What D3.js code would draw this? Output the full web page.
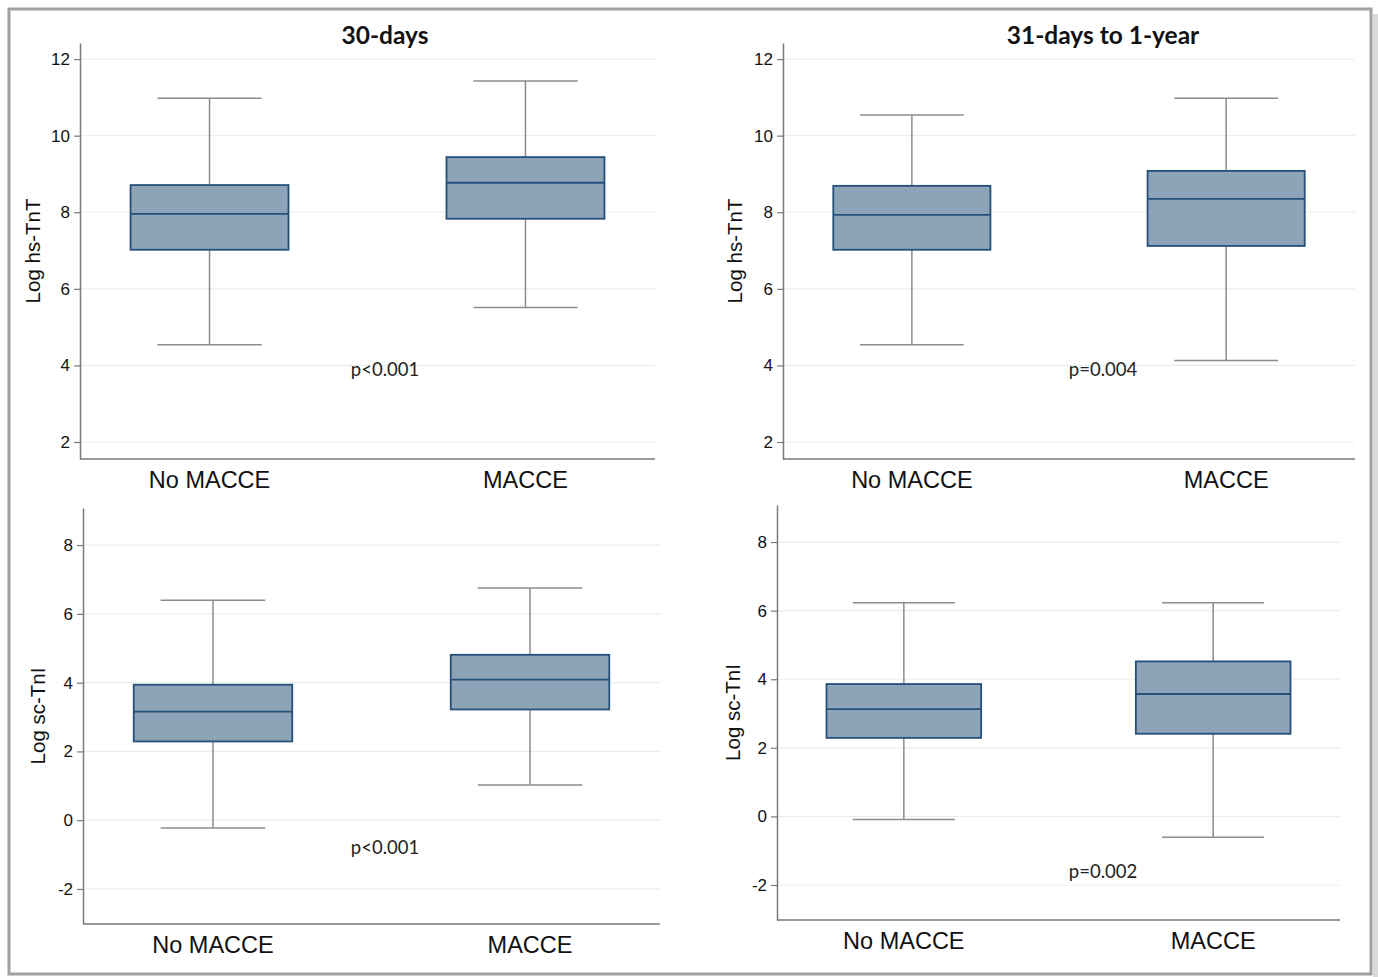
<!DOCTYPE html>
<html>
<head>
<meta charset="utf-8">
<script src="https://cdn.jsdelivr.net/npm/d3@7"></script>
<style>
  body { margin: 0; background: #fff; }
</style>
</head>
<body>
<div id="chart"></div>
<script>
// ---------------------- data ----------------------
var groups = ["No MACCE", "MACCE"];
var periods = ["30-days", "31-days to 1-year"];
var markers = ["Log hs-TnT", "Log sc-TnI"];

// [lowWhisker, q1, median, q3, highWhisker]
var tntDays30 = [[4.54, 7.02, 7.96, 8.71, 10.98], [5.51, 7.83, 8.77, 9.44, 11.43]];
var tntYear1  = [[4.54, 7.02, 7.93, 8.69, 10.54], [4.13, 7.12, 8.35, 9.08, 10.98]];
var tniDays30 = [[-0.23, 2.29, 3.16, 3.94, 6.40], [1.02, 3.22, 4.09, 4.81, 6.75]];
var tniYear1  = [[-0.09, 2.29, 3.13, 3.86, 6.23], [-0.61, 2.41, 3.57, 4.52, 6.23]];

var tntTicks = [2, 4, 6, 8, 10, 12];
var tniTicks = [-2, 0, 2, 4, 6, 8];
var pValues = ["p<0.001", "p=0.004", "p<0.001", "p=0.002"];

// ---------------------- panel layout ----------------------
var panels = [
  {data: tntDays30, ticks: tntTicks, dom: [1.556, 12.42], label: markers[0], title: periods[0], p: pValues[0],
   x0: 80, x1: 655, y0: 459, y1: 43, py: 370, lx: 33, xl: 488, cx: 385},
  {data: tntYear1, ticks: tntTicks, dom: [1.556, 12.42], label: markers[0], title: periods[1], p: pValues[1],
   x0: 783, x1: 1355, y0: 459, y1: 43, py: 370, lx: 735, xl: 488, cx: 1103},
  {data: tniDays30, ticks: tniTicks, dom: [-3.02, 9.08], label: markers[1], title: null, p: pValues[2],
   x0: 83, x1: 660, y0: 924, y1: 508, py: 848, lx: 38, xl: 953, cx: 385},
  {data: tniYear1, ticks: tniTicks, dom: [-3.02, 9.08], label: markers[1], title: null, p: pValues[3],
   x0: 777, x1: 1340, y0: 920, y1: 505, py: 872, lx: 733, xl: 949, cx: 1103}
];

var svg = d3.select("#chart")
  .append("svg")
  .attr("width", 1378)
  .attr("height", 977);

// outer frame with a little shadow on the right
svg.append("rect").attr("x", 1373).attr("y", 14).attr("width", 5).attr("height", 963).attr("fill", "#d9d9d9");
svg.append("rect")
  .attr("x", 9).attr("y", 9).attr("width", 1362).attr("height", 965)
  .attr("fill", "#fff").attr("stroke", "#a0a0a0").attr("stroke-width", 3);

var boxFill = "#8ca3b8", boxStroke = "#24507a", whisk = "#8c8c8c", axisCol = "#7a7a7a";
var sans = "Liberation Sans, Arial, sans-serif", cal = "Lato, Open Sans, sans-serif";

panels.forEach(function(pn) {
  var g = svg.append("g");
  var y = d3.scaleLinear().domain(pn.dom).range([pn.y0, pn.y1]);
  var x = d3.scalePoint().domain(groups).range([pn.x0, pn.x1]).padding(0.41);
  var step = x.step();

  // grid
  g.selectAll(".grid").data(pn.ticks).enter().append("line")
    .attr("x1", pn.x0).attr("x2", pn.x1)
    .attr("y1", function(d) { return y(d); }).attr("y2", function(d) { return y(d); })
    .attr("stroke", "#e6efef").attr("stroke-width", 1.2);

  // y axis
  var ya = g.append("g").attr("transform", "translate(" + pn.x0 + ",0)")
    .call(d3.axisLeft(y).tickValues(pn.ticks).tickSize(6).tickSizeOuter(0).tickPadding(4)
      .tickFormat(function(d) { return String(d); }));
  ya.select(".domain").attr("stroke", axisCol).attr("stroke-width", 1.5);
  ya.selectAll(".tick line").attr("stroke", axisCol).attr("stroke-width", 1.2);
  ya.selectAll(".tick text").attr("fill", "#111").style("font-family", sans).style("font-size", "17px");

  // x axis line
  g.append("line").attr("x1", pn.x0).attr("x2", pn.x1).attr("y1", pn.y0).attr("y2", pn.y0)
    .attr("stroke", axisCol).attr("stroke-width", 1.5);

  // x labels
  g.selectAll(".xl").data(groups).enter().append("text")
    .attr("x", function(d) { return x(d); }).attr("y", pn.xl)
    .attr("text-anchor", "middle")
    .style("font-family", sans).style("font-size", "23.5px").attr("fill", "#111")
    .text(function(d) { return d; });

  // boxes
  var bw = step * 0.5, cw = step * 0.33;
  var bx = g.selectAll(".box").data(pn.data).enter().append("g");
  bx.append("line")
    .attr("x1", function(d, i) { return x(groups[i]); }).attr("x2", function(d, i) { return x(groups[i]); })
    .attr("y1", function(d) { return y(d[4]); }).attr("y2", function(d) { return y(d[0]); })
    .attr("stroke", whisk).attr("stroke-width", 1.5);
  [0, 4].forEach(function(k) {
    bx.append("line")
      .attr("x1", function(d, i) { return x(groups[i]) - cw / 2; }).attr("x2", function(d, i) { return x(groups[i]) + cw / 2; })
      .attr("y1", function(d) { return y(d[k]); }).attr("y2", function(d) { return y(d[k]); })
      .attr("stroke", whisk).attr("stroke-width", 1.5);
  });
  bx.append("rect")
    .attr("x", function(d, i) { return x(groups[i]) - bw / 2; }).attr("width", bw)
    .attr("y", function(d) { return y(d[3]); }).attr("height", function(d) { return y(d[1]) - y(d[3]); })
    .attr("fill", boxFill).attr("stroke", boxStroke).attr("stroke-width", 1.8);
  bx.append("line")
    .attr("x1", function(d, i) { return x(groups[i]) - bw / 2; }).attr("x2", function(d, i) { return x(groups[i]) + bw / 2; })
    .attr("y1", function(d) { return y(d[2]); }).attr("y2", function(d) { return y(d[2]); })
    .attr("stroke", boxStroke).attr("stroke-width", 1.8);

  // p value
  g.append("text").attr("x", pn.cx).attr("y", pn.py + 6)
    .attr("text-anchor", "middle")
    .style("font-family", cal).style("font-size", "18.5px").attr("fill", "#222")
    .text(pn.p);

  // y label
  g.append("text")
    .attr("transform", "translate(" + (pn.lx + 7) + "," + ((pn.y0 + pn.y1) / 2) + ") rotate(-90)")
    .attr("text-anchor", "middle")
    .style("font-family", sans).style("font-size", "20.5px").attr("fill", "#111")
    .text(pn.label);

  // title
  if (pn.title) {
    g.append("text").attr("x", pn.cx).attr("y", 44)
      .attr("text-anchor", "middle")
      .style("font-family", cal).style("font-weight", "bold").style("font-size", "24.5px").attr("fill", "#111")
      .text(pn.title);
  }
});
</script>
</body>
</html>
